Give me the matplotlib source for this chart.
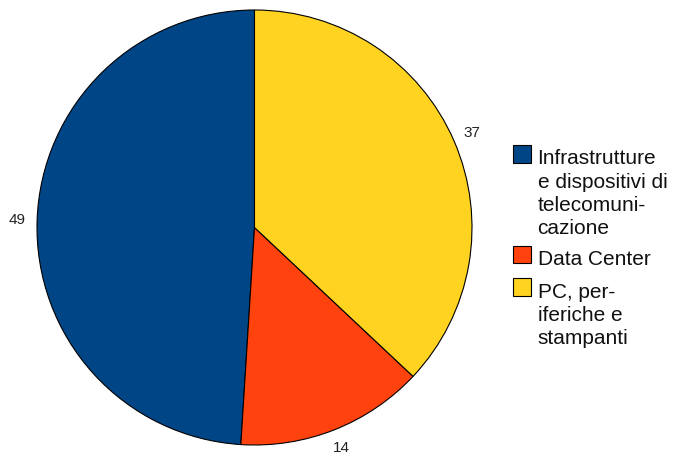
import matplotlib
matplotlib.use("Agg")
import matplotlib.pyplot as plt
import numpy as np
from matplotlib.patches import Rectangle

categories = ["Infrastrutture\ne dispositivi di\ntelecomuni-\ncazione",
              "Data Center",
              "PC, per-\niferiche e\nstampanti"]
values = [49, 14, 37]
colors = ["#004586", "#ff420e", "#ffd320"]

plt.rcParams['font.family'] = ['Liberation Sans', 'DejaVu Sans']

W, H = 674, 455
fig = plt.figure(figsize=(W / 100, H / 100), dpi=100)
cx, cy, R = 254.5, 227.5, 217.5  # pixels from left / bottom
ax = fig.add_axes([(cx - R) / W, (cy - R) / H, 2 * R / W, 2 * R / H])

wedges, _ = ax.pie(values, colors=colors, startangle=90, counterclock=True,
                   radius=1.0, wedgeprops=dict(edgecolor="black", linewidth=0.8))
ax.set_xlim(-1, 1)
ax.set_ylim(-1, 1)
ax.set_aspect("auto")
ax.axis("off")

for w, v in zip(wedges, values):
    ang = np.deg2rad((w.theta1 + w.theta2) / 2)
    d = 1.09
    ax.text(d * np.cos(ang), d * np.sin(ang), str(v), ha="center", va="center",
            fontsize=11, color="#222222", clip_on=False)

# legend (pixel positions measured from top)
sq = 17.5
baselines = [164.5, 265, 297.5]
line_step = 23.3
for cat, col, base in zip(categories, colors, baselines):
    top = base - 19.5
    fig.patches.append(Rectangle((513 / W, (H - top - sq) / H), sq / W, sq / H,
                                 transform=fig.transFigure, facecolor=col,
                                 edgecolor="black", linewidth=0.8))
    for i, line in enumerate(cat.split("\n")):
        fig.text(537.5 / W, (H - base - i * line_step) / H, line, ha="left",
                 va="baseline", fontsize=15, color="#111111")

fig.savefig("out.png", dpi=100)
